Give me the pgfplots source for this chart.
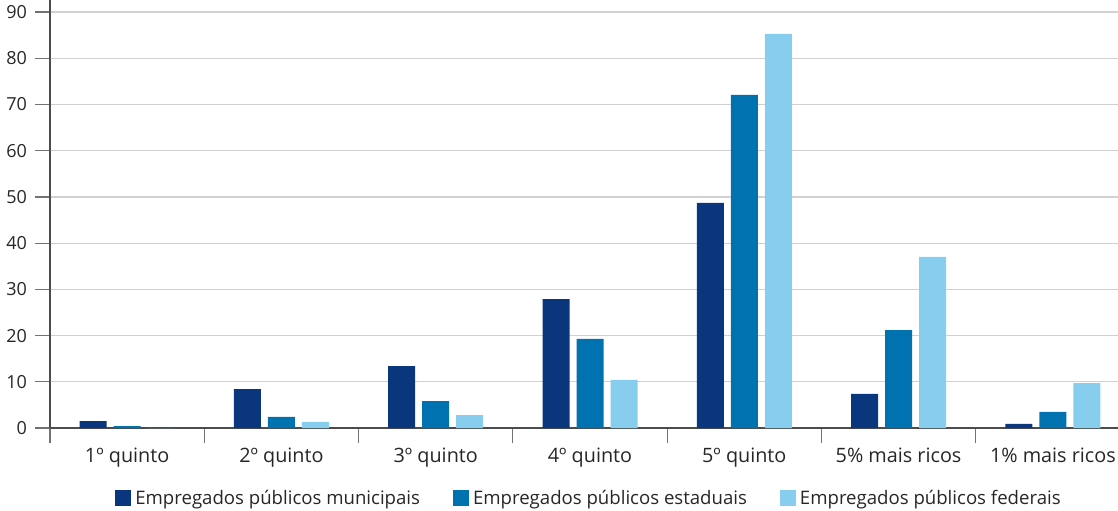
\documentclass[border=0pt]{standalone}
\usepackage{pgfplots}
\pgfplotsset{compat=1.18}
\usepackage{fontspec}
\setmainfont{Open Sans}
\definecolor{cmun}{RGB}{10,54,126}
\definecolor{cest}{RGB}{0,114,176}
\definecolor{cfed}{RGB}{135,206,238}
\begin{document}
\begin{tikzpicture}
\path[use as bounding box] (-25pt,-41pt) rectangle (534pt,214pt);
\clip (-25pt,-41pt) rectangle (534pt,214pt);
\begin{axis}[
  at={(0,0)}, anchor=south west,
  scale only axis, width=540pt, height=214.93pt,
  xmin=-0.5, xmax=6.5, ymin=0, ymax=93,
  axis lines*=left,
  axis line style={draw=black!70, line width=0.7pt},
  xtick={-0.5,0.5,...,6.5},
  xticklabels={},
  extra x ticks={0,1,2,3,4,5,6},
  extra x tick labels={1º quinto,2º quinto,3º quinto,4º quinto,5º quinto,5\% mais ricos,1\% mais ricos},
  extra x tick style={major tick length=0pt, grid=none,
    xticklabel style={font=\fontsize{9.9}{12}\selectfont, text=black!85, yshift=-6.5pt}},
  ytick={0,10,...,90},
  tick align=outside,
  major tick length=7.5pt,
  tick style={draw=black!55, line width=0.6pt},
  ymajorgrids, grid style={draw=black!18, line width=0.6pt},
  /pgf/number format/assume math mode=true,
  yticklabel style={font=\fontsize{9}{11}\selectfont, text=black!85, xshift=-0.5pt},
  legend style={at={(axis description cs:0.5,0)}, anchor=center, yshift=-35.5pt,
    draw=none, fill=none, font=\fontsize{9.3}{11}\selectfont, text=black!85,
    legend columns=3, /tikz/every even column/.append style={column sep=14.5pt}},
  legend image code/.code={\fill[#1] (0pt,-3.5pt) rectangle (8pt,4.5pt);},
]
\addplot[ybar, bar width=13.5pt, bar shift=-17pt, fill=cmun, draw=none] coordinates {(0,1.5) (1,8.4) (2,13.4) (3,27.9) (4,48.7) (5,7.4) (6,0.9)};
\addplot[ybar, bar width=13.5pt, bar shift=0pt, fill=cest, draw=none] coordinates {(0,0.4) (1,2.4) (2,5.8) (3,19.3) (4,72.1) (5,21.2) (6,3.5)};
\addplot[ybar, bar width=13.5pt, bar shift=17pt, fill=cfed, draw=none] coordinates {(0,0) (1,1.3) (2,2.8) (3,10.4) (4,85.3) (5,37.0) (6,9.7)};
\legend{Empregados públicos municipais, Empregados públicos estaduais, Empregados públicos federais}
\end{axis}
\end{tikzpicture}
\end{document}
